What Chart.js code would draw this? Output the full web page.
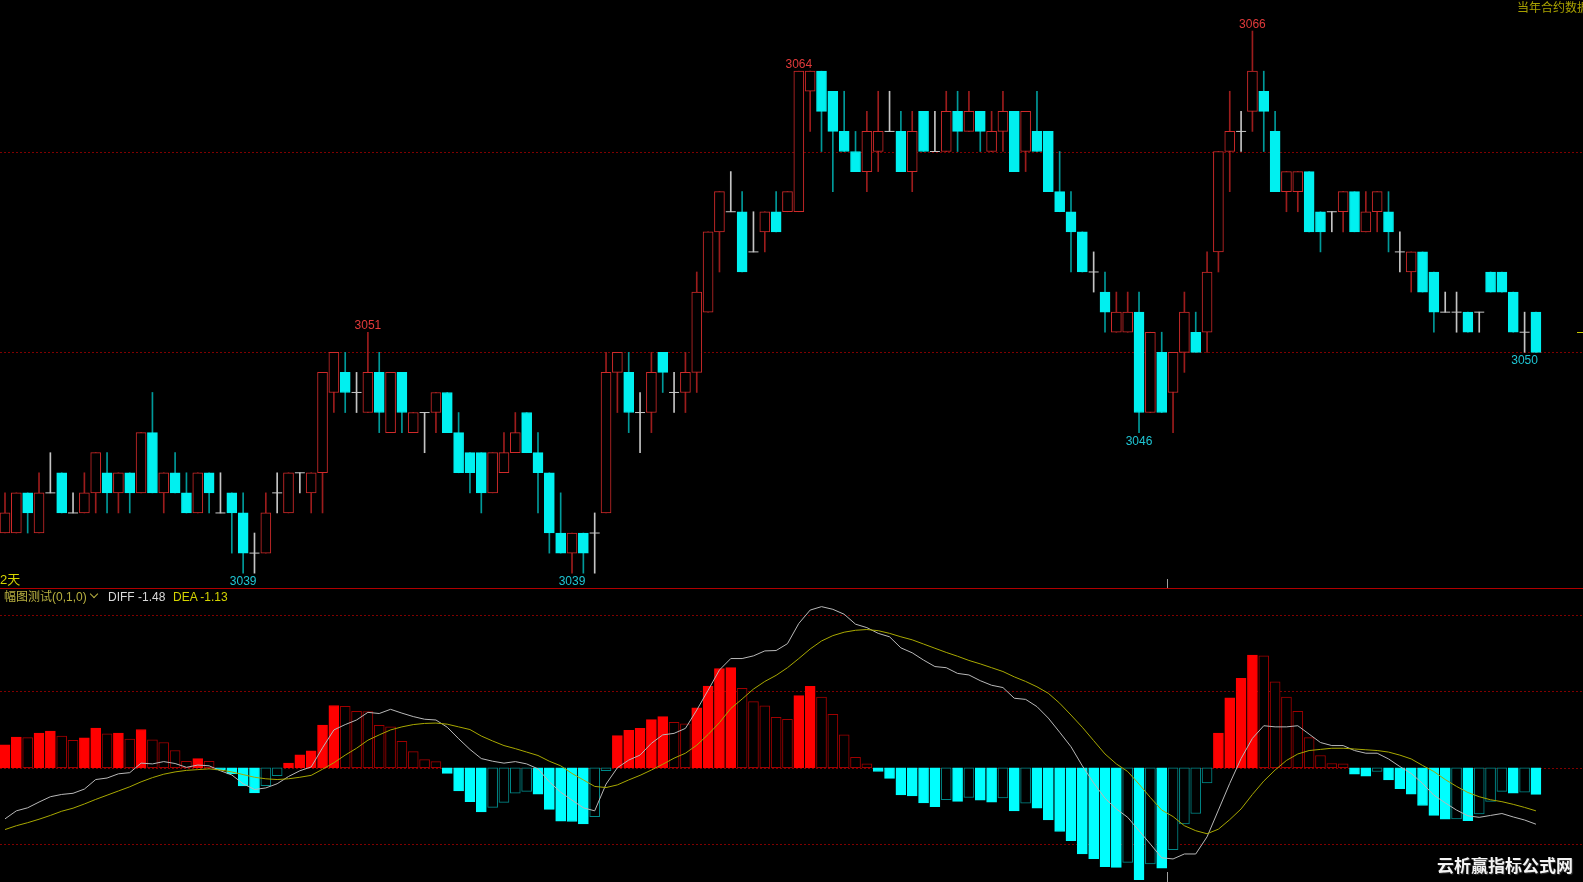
<!DOCTYPE html>
<html>
<head>
<meta charset="utf-8">
<script src="https://cdn.jsdelivr.net/npm/chart.js@4.4.1/dist/chart.umd.min.js"></script>
<style>
html, body { margin: 0; padding: 0; background: #000; overflow: hidden; width: 1583px; height: 882px; }
#wrap { position: relative; width: 1583px; height: 882px; overflow: hidden; }
#k { position: absolute; left: 0; top: 0; }
#m { position: absolute; left: 0; top: 588px; }
.t { position: absolute; white-space: nowrap; font: 12px "Liberation Sans", "Noto Sans CJK SC", Arial, sans-serif; line-height: 14px; }
#sep { position: absolute; left: 0; top: 588px; width: 1583px; height: 1px; background: #b00000; }
#chev { position: absolute; left: 91px; top: 591px; width: 5px; height: 5px; border-right: 1px solid #b8b040; border-bottom: 1px solid #b8b040; transform: rotate(45deg); }
</style>
</head>
<body>
<div id="wrap">
  <canvas id="k" width="1583" height="588"></canvas>
  <canvas id="m" width="1583" height="294"></canvas>
  <div id="sep"></div>
  <div class="t" style="left:0;top:573px;font-size:13px;color:#d6d600;">2天</div>
  <div class="t" style="left:4px;top:590px;color:#b8b040;">幅图测试(0,1,0)</div>
  <div id="chev"></div>
  <div class="t" style="left:108px;top:590px;color:#d8d8d8;">DIFF -1.48</div>
  <div class="t" style="left:173px;top:590px;color:#d4d400;">DEA -1.13</div>
  <div class="t" style="left:1517px;top:0;color:#a8a000;font-family:'Noto Sans CJK SC',sans-serif;">当年合约数据</div>
  <div class="t" style="left:1437px;top:855px;font-size:17px;line-height:20px;font-weight:bold;color:#f4f4f4;font-family:'Noto Sans CJK SC',sans-serif;text-shadow:1px 1px 1px #333;">云析赢指标公式网</div>
</div>
<script>
'use strict';
// price bars, oldest first
var opens  = [3041,3041,3043,3041,3043,3044,3042,3042,3043,3044,3043,3044,3043,3046,3043,3044,3043,3042,3044,3042,
              3043,3042,3040,3040,3043,3042,3044,3043,3044,3048,3049,3048,3047,3049,3046,3049,3046,3047,3047,3048,
              3046,3045,3045,3043,3044,3045,3047,3045,3044,3041,3040,3041,3041,3042,3049,3049,3047,3047,3050,3048,
              3048,3049,3052,3056,3057,3057,3055,3056,3057,3057,3057,3063,3064,3063,3061,3060,3059,3060,3061,3061,
              3059,3062,3060,3060,3062,3061,3062,3060,3061,3062,3060,3061,3061,3058,3057,3056,3054,3053,3051,3051,
              3052,3047,3050,3048,3050,3051,3051,3055,3060,3061,3062,3063,3061,3058,3058,3059,3057,3057,3057,3058,
              3056,3057,3057,3055,3054,3055,3054,3052,3052,3052,3052,3054,3054,3053,3051,3052];
var closes = [3042,3043,3042,3043,3043,3042,3042,3043,3045,3043,3044,3043,3046,3043,3044,3043,3042,3044,3043,3042,
              3042,3040,3040,3042,3043,3044,3044,3044,3049,3050,3048,3048,3049,3047,3049,3047,3047,3047,3048,3046,
              3044,3044,3043,3045,3045,3046,3045,3044,3041,3040,3041,3040,3041,3049,3050,3047,3047,3049,3049,3048,
              3049,3053,3056,3058,3057,3054,3055,3057,3056,3058,3064,3064,3062,3061,3060,3059,3061,3061,3061,3059,
              3061,3060,3060,3062,3061,3062,3061,3061,3062,3059,3062,3060,3058,3057,3056,3054,3054,3052,3052,3052,
              3047,3051,3047,3050,3052,3050,3054,3060,3061,3061,3064,3062,3058,3059,3059,3056,3056,3057,3058,3056,
              3057,3058,3056,3055,3055,3053,3052,3052,3052,3051,3052,3053,3053,3051,3051,3050];
var highs  = [3043,3043,3043,3044,3045,3044,3043,3044,3045,3045,3044,3044,3046,3048,3044,3045,3044,3044,3044,3044,
              3043,3043,3041,3043,3044,3044,3044,3044,3049,3050,3050,3049,3051,3050,3049,3049,3047,3047,3048,3048,
              3047,3045,3045,3045,3046,3047,3047,3046,3044,3043,3041,3041,3042,3050,3050,3050,3048,3050,3050,3049,
              3050,3054,3056,3058,3059,3058,3057,3057,3058,3058,3064,3064,3064,3063,3063,3061,3062,3063,3063,3062,
              3062,3062,3062,3063,3063,3063,3062,3062,3063,3062,3062,3063,3061,3060,3058,3056,3055,3054,3053,3053,
              3053,3051,3051,3050,3053,3052,3055,3060,3063,3062,3066,3064,3062,3059,3059,3059,3057,3057,3058,3058,
              3058,3058,3058,3056,3055,3055,3054,3053,3053,3052,3052,3054,3054,3053,3052,3052];
var lows   = [3041,3041,3041,3041,3043,3042,3042,3042,3042,3042,3042,3042,3043,3043,3042,3043,3042,3042,3042,3042,
              3040,3039,3039,3040,3042,3042,3043,3042,3042,3047,3047,3047,3047,3046,3046,3046,3046,3045,3046,3046,
              3044,3043,3042,3043,3044,3045,3045,3042,3040,3040,3039,3039,3039,3042,3047,3046,3045,3046,3048,3047,
              3047,3048,3052,3054,3057,3054,3055,3055,3056,3057,3057,3061,3060,3058,3060,3059,3058,3059,3061,3059,
              3058,3060,3060,3060,3060,3061,3060,3060,3060,3059,3059,3060,3058,3057,3054,3054,3053,3051,3051,3051,
              3046,3047,3047,3046,3049,3050,3050,3054,3058,3060,3061,3060,3058,3057,3057,3056,3055,3056,3056,3056,
              3056,3056,3055,3054,3053,3053,3051,3052,3051,3051,3051,3053,3053,3051,3050,3050];

// MACD panel
var macdBars = [0.60,0.80,0.79,0.91,0.96,0.83,0.72,0.78,1.04,0.89,0.91,0.75,1.00,0.73,0.66,0.45,0.17,0.24,0.17,-0.06,
                -0.16,-0.48,-0.66,-0.47,-0.21,0.12,0.34,0.44,1.12,1.63,1.61,1.48,1.47,1.11,1.07,0.69,0.42,0.21,0.16,-0.15,
                -0.61,-0.89,-1.16,-1.04,-0.91,-0.67,-0.62,-0.69,-1.09,-1.40,-1.41,-1.47,-1.28,-0.08,0.84,0.98,1.03,1.26,1.34,1.19,
                1.15,1.57,2.14,2.60,2.62,2.08,1.73,1.62,1.32,1.27,1.89,2.13,1.85,1.40,0.86,0.27,0.10,-0.10,-0.28,-0.71,
                -0.74,-0.92,-1.02,-0.84,-0.88,-0.78,-0.85,-0.90,-0.79,-1.13,-0.93,-1.06,-1.37,-1.67,-1.91,-2.26,-2.38,-2.59,-2.61,-2.48,
                -2.93,-2.52,-2.63,-2.15,-1.47,-1.20,-0.40,0.91,1.83,2.34,2.95,2.93,2.25,1.85,1.48,0.79,0.32,0.11,0.10,-0.17,
                -0.22,-0.10,-0.32,-0.55,-0.69,-0.99,-1.25,-1.35,-1.34,-1.39,-1.21,-0.88,-0.62,-0.67,-0.64,-0.70];
var diffLine = [-1.34,-1.13,-1.05,-0.90,-0.76,-0.70,-0.67,-0.56,-0.31,-0.27,-0.16,-0.13,0.12,0.10,0.16,0.11,0.01,0.07,0.05,-0.08,
                -0.19,-0.42,-0.57,-0.53,-0.42,-0.23,-0.08,0.02,0.52,0.99,1.13,1.25,1.45,1.42,1.53,1.43,1.34,1.27,1.25,1.06,
                0.76,0.48,0.24,0.17,0.12,0.16,0.10,-0.03,-0.37,-0.64,-0.85,-1.05,-1.13,-0.43,0.00,0.20,0.33,0.64,0.86,0.90,
                1.03,1.51,2.03,2.56,2.86,2.86,2.93,3.06,3.07,3.25,3.78,4.13,4.22,4.15,4.02,3.76,3.67,3.52,3.43,3.14,
                3.01,2.82,2.65,2.62,2.47,2.43,2.28,2.16,2.10,1.82,1.79,1.60,1.30,0.93,0.55,0.05,-0.40,-0.80,-1.08,-1.30,
                -1.65,-2.00,-2.36,-2.39,-2.26,-2.26,-1.81,-1.11,-0.41,0.24,0.77,1.10,1.07,1.07,1.10,0.88,0.66,0.58,0.58,0.45,
                0.38,0.38,0.23,0.03,-0.15,-0.41,-0.72,-0.92,-1.11,-1.26,-1.30,-1.25,-1.20,-1.29,-1.37,-1.48];
var deaLine  = [-1.62,-1.52,-1.44,-1.35,-1.25,-1.14,-1.06,-0.95,-0.83,-0.72,-0.61,-0.50,-0.37,-0.26,-0.17,-0.11,-0.07,-0.05,-0.03,-0.06,
                -0.11,-0.18,-0.25,-0.29,-0.31,-0.29,-0.25,-0.20,-0.04,0.13,0.33,0.51,0.72,0.86,0.99,1.07,1.13,1.16,1.17,1.14,
                1.07,1.00,0.83,0.70,0.58,0.50,0.41,0.32,0.17,0.05,-0.15,-0.32,-0.49,-0.52,-0.45,-0.32,-0.20,-0.06,0.09,0.25,
                0.38,0.59,0.87,1.18,1.55,1.80,2.06,2.26,2.42,2.62,2.86,3.11,3.32,3.46,3.55,3.60,3.62,3.59,3.52,3.43,
                3.35,3.24,3.13,3.02,2.92,2.81,2.72,2.62,2.52,2.38,2.26,2.12,1.95,1.69,1.38,1.06,0.71,0.36,0.10,-0.10,
                -0.43,-0.78,-1.11,-1.28,-1.52,-1.65,-1.73,-1.61,-1.36,-1.08,-0.70,-0.35,-0.06,0.19,0.36,0.45,0.48,0.51,0.51,0.49,
                0.47,0.45,0.41,0.33,0.23,0.06,-0.10,-0.31,-0.49,-0.65,-0.76,-0.84,-0.89,-0.96,-1.04,-1.13];

// bars whose high / low carry a price label
var peakMarks = [32, 70, 110];
var troughMarks = [21, 50, 100, 134];
var priceGrid = [3050, 3060];
var macdGrid = [4, 2, 0, -2];
var refPrice = 3051;
var dayBreak = 102.5;

// visible window
var xMin = -0.441, xMax = 139.15;
var priceMin = 3038.262, priceMax = 3067.545;
var macdMin = -2.994, macdMax = 4.708;

var idx = opens.map(function (v, i) { return i; });
function dir(i) { return closes[i] > opens[i] ? 1 : (closes[i] < opens[i] ? -1 : 0); }

var wickData = idx.map(function (i) { return { x: i, y: [lows[i], highs[i]] }; });
var wickColors = idx.map(function (i) { return dir(i) > 0 ? '#9c1c1c' : (dir(i) < 0 ? '#009a9a' : '#c4c4c4'); });
var bodyIdx = idx.filter(function (i) { return dir(i) !== 0; });
var bodyData = bodyIdx.map(function (i) { return { x: i, y: [opens[i], closes[i]] }; });
var bodyFill = bodyIdx.map(function (i) { return dir(i) > 0 ? '#000000' : '#00f0f0'; });
var bodyLine = bodyIdx.map(function (i) { return dir(i) > 0 ? '#d02a2a' : '#00f0f0'; });
var dojiData = idx.filter(function (i) { return dir(i) === 0; }).map(function (i) { return { x: i, y: closes[i] }; });

function dashGrid(values) {
  return {
    id: 'dashGrid',
    beforeDatasetsDraw: function (chart) {
      var ctx = chart.ctx, ys = chart.scales.y, a = chart.chartArea;
      ctx.save();
      ctx.strokeStyle = '#800000';
      ctx.lineWidth = 1;
      ctx.setLineDash([2, 2]);
      values.forEach(function (v) {
        var y = Math.round(ys.getPixelForValue(v)) + 0.5;
        ctx.beginPath();
        ctx.moveTo(a.left, y);
        ctx.lineTo(a.right, y);
        ctx.stroke();
      });
      ctx.restore();
    }
  };
}

function dayTick(fromBottom) {
  return {
    id: 'dayTick',
    afterDatasetsDraw: function (chart) {
      var ctx = chart.ctx, a = chart.chartArea;
      var x = Math.round(chart.scales.x.getPixelForValue(dayBreak)) + 0.5;
      ctx.save();
      ctx.strokeStyle = '#a0a0a0';
      ctx.lineWidth = 1;
      ctx.beginPath();
      ctx.moveTo(x, a.bottom - fromBottom);
      ctx.lineTo(x, a.bottom);
      ctx.stroke();
      ctx.restore();
    }
  };
}

var markLabels = {
  id: 'markLabels',
  afterDatasetsDraw: function (chart) {
    var ctx = chart.ctx, xs = chart.scales.x, ys = chart.scales.y, a = chart.chartArea;
    ctx.save();
    ctx.font = '12px "Liberation Sans", Arial, sans-serif';
    ctx.textAlign = 'center';
    ctx.textBaseline = 'alphabetic';
    ctx.fillStyle = '#e23a3a';
    peakMarks.forEach(function (i) {
      ctx.fillText(String(highs[i]), xs.getPixelForValue(i), ys.getPixelForValue(highs[i]) - 3);
    });
    ctx.fillStyle = '#1fc6d4';
    troughMarks.forEach(function (i) {
      ctx.fillText(String(lows[i]), xs.getPixelForValue(i), ys.getPixelForValue(lows[i]) + 12);
    });
    // reference price tick on the right edge
    var yr = Math.round(ys.getPixelForValue(refPrice)) + 0.5;
    ctx.strokeStyle = '#c8c800';
    ctx.lineWidth = 1;
    ctx.beginPath();
    ctx.moveTo(a.right - 6, yr);
    ctx.lineTo(a.right, yr);
    ctx.stroke();
    ctx.restore();
  }
};

var baseOpts = function (yMin, yMax) {
  return {
    animation: false,
    responsive: false,
    maintainAspectRatio: false,
    layout: { padding: 0, autoPadding: false },
    events: [],
    plugins: { legend: { display: false }, tooltip: { enabled: false } },
    scales: {
      x: { type: 'linear', display: false, min: xMin, max: xMax, offset: false },
      y: { type: 'linear', display: false, min: yMin, max: yMax }
    }
  };
};

new Chart(document.getElementById('k').getContext('2d'), {
  type: 'bar',
  data: {
    datasets: [{
      label: 'wick',
      data: wickData,
      backgroundColor: wickColors,
      borderWidth: 0,
      barThickness: 1,
      grouped: false,
      order: 3
    }, {
      label: 'body',
      data: bodyData,
      backgroundColor: bodyFill,
      borderColor: bodyLine,
      borderWidth: 1,
      borderSkipped: false,
      barThickness: 10,
      grouped: false,
      order: 2
    }, {
      type: 'line',
      label: 'doji',
      data: dojiData,
      showLine: false,
      pointStyle: 'line',
      pointRadius: 5,
      pointBorderColor: '#c8c8c8',
      pointBorderWidth: 1,
      order: 1
    }]
  },
  options: baseOpts(priceMin, priceMax),
  plugins: [dashGrid(priceGrid), markLabels, dayTick(9)]
});

var macdFill = [], macdEdge = [];
macdBars.forEach(function (v, i) {
  var prev = i > 0 ? macdBars[i - 1] : null;
  if (v >= 0) {
    var up = prev === null || v >= prev;
    macdFill.push(up ? '#ff0000' : '#000000');
    macdEdge.push(up ? '#ff0000' : '#a00000');
  } else {
    var down = prev === null || v <= prev;
    macdFill.push(down ? '#00ffff' : '#000000');
    macdEdge.push(down ? '#00ffff' : '#008a8a');
  }
});

new Chart(document.getElementById('m').getContext('2d'), {
  type: 'bar',
  data: {
    datasets: [{
      label: 'MACD',
      data: macdBars.map(function (v, i) { return { x: i, y: v }; }),
      backgroundColor: macdFill,
      borderColor: macdEdge,
      borderWidth: 1,
      borderSkipped: false,
      barThickness: 10,
      grouped: false,
      order: 2
    }, {
      type: 'line',
      label: 'DIFF',
      data: diffLine.map(function (v, i) { return { x: i, y: v }; }),
      borderColor: '#b8b8b8',
      borderWidth: 1,
      pointRadius: 0,
      tension: 0,
      order: 1
    }, {
      type: 'line',
      label: 'DEA',
      data: deaLine.map(function (v, i) { return { x: i, y: v }; }),
      borderColor: '#a8a800',
      borderWidth: 1,
      pointRadius: 0,
      tension: 0,
      order: 0
    }]
  },
  options: baseOpts(macdMin, macdMax),
  plugins: [dashGrid(macdGrid), dayTick(10)]
});
</script>
</body>
</html>
